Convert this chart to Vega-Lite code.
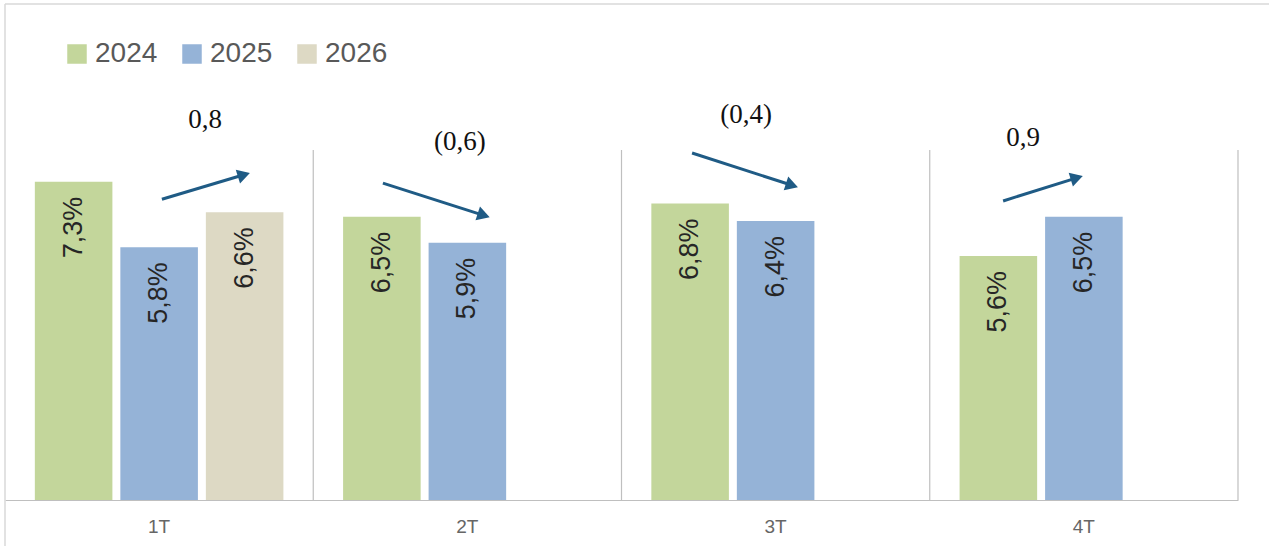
{
  "$schema": "https://vega.github.io/schema/vega-lite/v6.json",
  "width": 1233,
  "height": 500,
  "autosize": {"type": "none"},
  "padding": {"left": 5, "top": 0, "right": 31, "bottom": 46},
  "background": "white",
  "config": {"view": {"stroke": null}},
  "datasets": {
    "bars": [
      {"quarter": "1T", "year": "2024", "value": 7.3, "label": "7,3%"},
      {"quarter": "1T", "year": "2025", "value": 5.8, "label": "5,8%"},
      {"quarter": "1T", "year": "2026", "value": 6.6, "label": "6,6%"},
      {"quarter": "2T", "year": "2024", "value": 6.5, "label": "6,5%"},
      {"quarter": "2T", "year": "2025", "value": 5.9, "label": "5,9%"},
      {"quarter": "3T", "year": "2024", "value": 6.8, "label": "6,8%"},
      {"quarter": "3T", "year": "2025", "value": 6.4, "label": "6,4%"},
      {"quarter": "4T", "year": "2024", "value": 5.6, "label": "5,6%"},
      {"quarter": "4T", "year": "2025", "value": 6.5, "label": "6,5%"}
    ],
    "arrows": [
      {"change": "0,8", "trend": "up", "x": 0.509, "y": 6.9, "x2": 0.775, "y2": 7.46, "lx": 0.649, "ly": 8.72},
      {"change": "(0,6)", "trend": "down", "x": 1.226, "y": 7.27, "x2": 1.553, "y2": 6.53, "lx": 1.476, "ly": 8.21},
      {"change": "(0,4)", "trend": "down", "x": 2.229, "y": 7.96, "x2": 2.553, "y2": 7.22, "lx": 2.404, "ly": 8.83},
      {"change": "0,9", "trend": "up", "x": 3.238, "y": 6.86, "x2": 3.477, "y2": 7.39, "lx": 3.303, "ly": 8.3}
    ],
    "separators": [{"pos": 1}, {"pos": 2}, {"pos": 3}, {"pos": 4}]
  },
  "resolve": {"scale": {"x": "independent"}, "axis": {"x": "independent"}},
  "layer": [
    {
      "data": {"values": [{}]},
      "mark": {"type": "rule", "color": "#d9d9d9", "strokeWidth": 1.5, "clip": false},
      "encoding": {
        "x": {"datum": 0, "type": "quantitative", "scale": {"domain": [0, 4], "nice": false}, "axis": null},
        "y": {"datum": -1.1, "type": "quantitative", "scale": {"domain": [0, 11.47], "nice": false, "zero": false}, "axis": null},
        "y2": {"datum": 11.38}
      }
    },
    {
      "data": {"values": [{}]},
      "mark": {"type": "rule", "color": "#d9d9d9", "strokeWidth": 1.5, "clip": false},
      "encoding": {
        "x": {"datum": 0, "type": "quantitative", "scale": {"domain": [0, 4], "nice": false}, "axis": null},
        "x2": {"datum": 4.12},
        "y": {"datum": 11.38, "type": "quantitative", "axis": null}
      }
    },
    {
      "data": {"name": "separators"},
      "mark": {"type": "rule", "color": "#bfbfbf", "strokeWidth": 1.2},
      "encoding": {
        "x": {"field": "pos", "type": "quantitative", "scale": {"domain": [0, 4], "nice": false}, "axis": null},
        "y": {"datum": 0, "type": "quantitative", "axis": null},
        "y2": {"datum": 8.03}
      }
    },
    {
      "data": {"name": "bars"},
      "mark": {"type": "bar"},
      "encoding": {
        "x": {
          "field": "quarter", "type": "nominal", "sort": ["1T", "2T", "3T", "4T"],
          "scale": {"paddingInner": 0, "paddingOuter": 0},
          "axis": {
            "title": null, "labelAngle": 0, "ticks": false, "domainColor": "#bfbfbf", "domainWidth": 1.2,
            "labelFont": "Liberation Sans", "labelFontSize": 19, "labelColor": "#666666", "labelPadding": 17
          }
        },
        "xOffset": {
          "field": "year", "type": "nominal",
          "scale": {"domain": ["2024", "2025", "2026"], "paddingInner": 0.093, "paddingOuter": 0.349}
        },
        "y": {"field": "value", "type": "quantitative", "scale": {"domain": [0, 11.47], "nice": false}, "axis": null},
        "color": {
          "field": "year", "type": "nominal",
          "scale": {"domain": ["2024", "2025", "2026"], "range": ["#c3d69b", "#95b3d7", "#ddd9c4"]},
          "legend": {
            "title": null, "orient": "none", "direction": "horizontal", "legendX": 58, "legendY": 40,
            "symbolType": "square", "symbolSize": 380, "symbolStrokeWidth": 0, "labelFont": "Liberation Sans",
            "labelFontSize": 28, "labelColor": "#595959", "labelOffset": 4, "columnPadding": 20
          }
        }
      }
    },
    {
      "data": {"name": "bars"},
      "mark": {"type": "text", "angle": 270, "align": "right", "baseline": "middle", "dx": -15, "font": "Liberation Sans", "fontSize": 27, "color": "#262626"},
      "encoding": {
        "x": {"field": "quarter", "type": "nominal", "sort": ["1T", "2T", "3T", "4T"], "scale": {"paddingInner": 0, "paddingOuter": 0}, "axis": null},
        "xOffset": {"field": "year", "type": "nominal", "scale": {"domain": ["2024", "2025", "2026"], "paddingInner": 0.093, "paddingOuter": 0.349}},
        "y": {"field": "value", "type": "quantitative"},
        "text": {"field": "label"}
      }
    },
    {
      "data": {"name": "arrows"},
      "mark": {"type": "rule", "color": "#1f5b85", "strokeWidth": 3},
      "encoding": {
        "x": {"field": "x", "type": "quantitative", "scale": {"domain": [0, 4], "nice": false}, "axis": null},
        "x2": {"field": "x2"},
        "y": {"field": "y", "type": "quantitative"},
        "y2": {"field": "y2"}
      }
    },
    {
      "data": {"name": "arrows"},
      "mark": {"type": "point", "shape": "triangle-right", "filled": true, "color": "#1f5b85", "size": 210, "opacity": 1},
      "encoding": {
        "x": {"field": "x2", "type": "quantitative", "scale": {"domain": [0, 4], "nice": false}, "axis": null},
        "y": {"field": "y2", "type": "quantitative"},
        "angle": {"field": "trend", "type": "nominal", "scale": {"domain": ["up", "down"], "range": [-17, 18]}, "legend": null}
      }
    },
    {
      "data": {"name": "arrows"},
      "mark": {"type": "text", "font": "Liberation Serif", "fontSize": 27, "color": "#111111", "align": "center", "baseline": "middle"},
      "encoding": {
        "x": {"field": "lx", "type": "quantitative", "scale": {"domain": [0, 4], "nice": false}, "axis": null},
        "y": {"field": "ly", "type": "quantitative"},
        "text": {"field": "change"}
      }
    }
  ]
}
